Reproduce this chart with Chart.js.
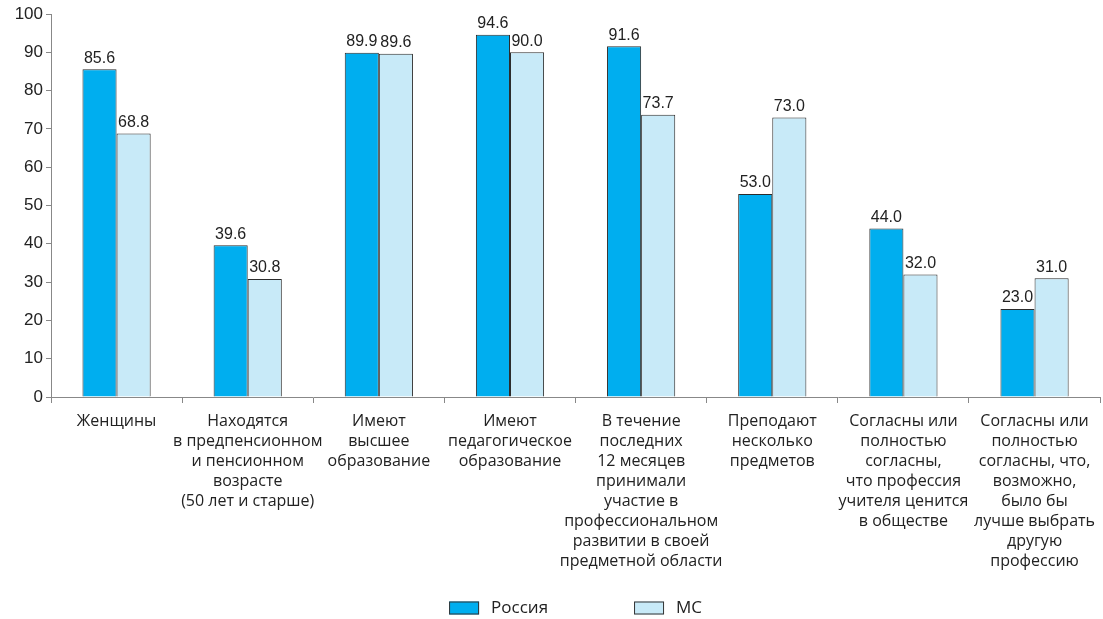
<!DOCTYPE html>
<html>
<head>
<meta charset="utf-8">
<script src="https://cdn.jsdelivr.net/npm/chart.js@4"></script>
<style>
  html, body { margin: 0; padding: 0; background: #fff; }
  #wrap { width: 1103px; height: 619px; }
</style>
</head>
<body>
<div id="wrap"><canvas id="teachersChart"></canvas></div>
<script>
// Categories (multi-line labels as in the original)
const categories = [
  ['Женщины'],
  ['Находятся', 'в предпенсионном', 'и пенсионном', 'возрасте', '(50 лет и старше)'],
  ['Имеют', 'высшее', 'образование'],
  ['Имеют', 'педагогическое', 'образование'],
  ['В течение', 'последних', '12 месяцев', 'принимали', 'участие в', 'профессиональном', 'развитии в своей', 'предметной области'],
  ['Преподают', 'несколько', 'предметов'],
  ['Согласны или', 'полностью', 'согласны,', 'что профессия', 'учителя ценится', 'в обществе'],
  ['Согласны или', 'полностью', 'согласны, что,', 'возможно,', 'было бы', 'лучше выбрать', 'другую', 'профессию']
];

const russiaValues = [85.6, 39.6, 89.9, 94.6, 91.6, 53.0, 44.0, 23.0];
const msValues = [68.8, 30.8, 89.6, 90.0, 73.7, 73.0, 32.0, 31.0];

const yTicks = [0, 10, 20, 30, 40, 50, 60, 70, 80, 90, 100];

const narrowFont = '"Liberation Sans Narrow", "Arial Narrow", "Liberation Sans", sans-serif';
const labelFont = '"Open Sans", "Noto Sans", sans-serif';

// Draw the value above each bar
const valueLabels = {
  id: 'valueLabels',
  afterDatasetsDraw(chart) {
    const ctx = chart.ctx;
    ctx.save();
    ctx.font = '16px ' + narrowFont;
    ctx.fillStyle = '#222';
    ctx.textAlign = 'center';
    ctx.textBaseline = 'bottom';
    chart.data.datasets.forEach((ds, i) => {
      const meta = chart.getDatasetMeta(i);
      meta.data.forEach((bar, j) => {
        ctx.fillText(ds.data[j].toFixed(1), bar.x, bar.y - 3);
      });
    });
    ctx.restore();
  }
};

// Legend drawn below the axis labels, centred
const bottomLegend = {
  id: 'bottomLegend',
  afterDraw(chart) {
    const ctx = chart.ctx;
    const boxW = 30, boxH = 13, textGap = 12, itemGap = 86;
    ctx.save();
    ctx.font = '17px ' + labelFont;
    const items = chart.data.datasets.map(ds => ({
      label: ds.label,
      color: ds.backgroundColor,
      w: boxW + textGap + ctx.measureText(ds.label).width
    }));
    const total = items.reduce((s, it) => s + it.w, 0) + itemGap * (items.length - 1);
    let x = (chart.chartArea.left + chart.chartArea.right) / 2 - total / 2;
    const y = chart.height - 11;
    items.forEach(it => {
      ctx.fillStyle = it.color;
      ctx.fillRect(x, y - boxH / 2, boxW, boxH);
      ctx.strokeStyle = '#333';
      ctx.lineWidth = 1;
      ctx.strokeRect(x + 0.5, y - boxH / 2 + 0.5, boxW - 1, boxH - 1);
      ctx.fillStyle = '#222';
      ctx.textAlign = 'left';
      ctx.textBaseline = 'middle';
      ctx.fillText(it.label, x + boxW + textGap, y);
      x += it.w + itemGap;
    });
    ctx.restore();
  }
};

const ctx = document.getElementById('teachersChart').getContext('2d');
new Chart(ctx, {
  type: 'bar',
  data: {
    labels: categories,
    datasets: [
      {
        label: 'Россия',
        data: russiaValues,
        backgroundColor: '#00aeef',
        borderColor: '#2b2b2b',
        borderWidth: 1,
        borderSkipped: 'bottom'
      },
      {
        label: 'МС',
        data: msValues,
        backgroundColor: '#c8eaf8',
        borderColor: '#2b2b2b',
        borderWidth: 1,
        borderSkipped: 'bottom'
      }
    ]
  },
  options: {
    responsive: true,
    maintainAspectRatio: false,
    animation: false,
    categoryPercentage: 0.52,
    barPercentage: 1,
    layout: {
      padding: { top: 14, right: 0, bottom: 40, left: 0 }
    },
    plugins: {
      legend: { display: false },
      tooltip: { enabled: false }
    },
    scales: {
      x: {
        border: { color: '#888', width: 1 },
        grid: {
          drawOnChartArea: false,
          drawTicks: true,
          tickLength: 6,
          color: '#888',
          offset: true
        },
        ticks: {
          color: '#222',
          font: { family: labelFont, size: 16, lineHeight: 1.25 },
          padding: 8,
          maxRotation: 0,
          autoSkip: false
        }
      },
      y: {
        min: 0,
        max: 100,
        afterFit(axis) { axis.width = 51; },
        afterBuildTicks(axis) { axis.ticks = yTicks.map(v => ({ value: v })); },
        border: { color: '#888', width: 1 },
        grid: {
          drawOnChartArea: false,
          drawTicks: true,
          tickLength: 5,
          color: '#888'
        },
        ticks: {
          color: '#222',
          font: { family: narrowFont, size: 17 },
          padding: 3
        }
      }
    }
  },
  plugins: [valueLabels, bottomLegend]
});
</script>
</body>
</html>
